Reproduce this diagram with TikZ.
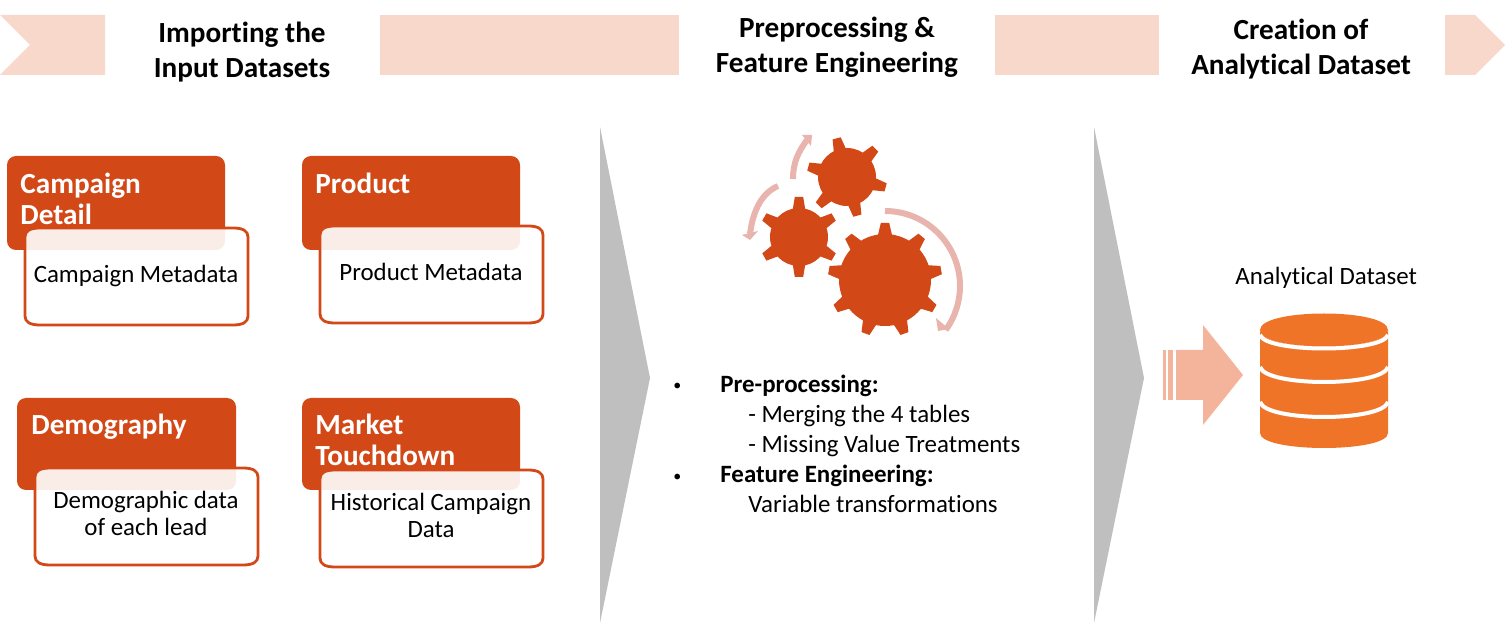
\documentclass[tikz,border=0pt]{standalone}
\usepackage{fontspec}
\setmainfont{Carlito}[Ligatures=NoCommon]
\definecolor{rust}{HTML}{D34817}
\definecolor{band}{HTML}{F9D8CC}
\definecolor{chev}{HTML}{BFBFBF}
\definecolor{swirl}{HTML}{E8B4AD}
\definecolor{dbo}{HTML}{F07427}
\definecolor{flow}{HTML}{F4B49C}
\tikzset{
  x=.5pt,y=.5pt,
  titletext/.style={font=\fontsize{14.6}{17.3}\selectfont\bfseries,align=center,anchor=base,inner sep=0pt,text=black},
  headtext/.style={font=\fontsize{14.6}{15.5}\selectfont\bfseries,align=left,anchor=base west,inner sep=0pt,text=white},
  bodytext/.style={font=\fontsize{12.45}{13.5}\selectfont,align=center,anchor=base,inner sep=0pt,text=black},
  listtext/.style={font=\fontsize{12.45}{15}\selectfont,anchor=base west,inner sep=0pt,text=black},
  listbold/.style={listtext,font=\fontsize{12.45}{15}\selectfont\bfseries},
  listdot/.style={listtext,font=\fontsize{8}{15}\selectfont},
  darkbox/.style={fill=rust,rounded corners=4.5pt},
  softbox/.style={draw=rust,line width=1.4pt,fill=white,fill opacity=.9,draw opacity=1},
  swirlarc/.style={draw=swirl,line width=3pt},
}
\newcommand{\softcard}[4]{%
  \filldraw[softbox] (#1+15,#2) -- (#3-15,#2) .. controls (#3-5,#2) and (#3,#2-3) .. (#3,#2-9)
    -- (#3,#4+9) .. controls (#3,#4+3) and (#3-5,#4) .. (#3-15,#4)
    -- (#1+15,#4) .. controls (#1+5,#4) and (#1,#4+3) .. (#1,#4+9)
    -- (#1,#2-9) .. controls (#1,#2-3) and (#1+5,#2) .. (#1+15,#2) -- cycle;}
\newcommand{\gearat}[7]{%
  \begin{scope}[shift={(#1,#2)}]
    \fill[rust] (0,0) circle[radius=#3];
    \foreach \k in {1,...,#6}{%
      \fill[rust,rotate={#5+360/#6*\k}] (#3-3,-#7) -- (#4,-4.2) -- (#4,4.2) -- (#3-3,#7) -- cycle;
    }
  \end{scope}}
\begin{document}
\begin{tikzpicture}
\useasboundingbox (0,0) rectangle (1505,-625);
% header band
\fill[band] (0,-15) -- (105,-15) -- (105,-75) -- (0,-75) -- (30,-45) -- cycle;
\fill[band] (380,-15) rectangle (679,-75);
\fill[band] (995,-15) rectangle (1159,-75);
\fill[band] (1445,-15) -- (1475,-15) -- (1505,-45) -- (1475,-75) -- (1445,-75) -- cycle;
\node[titletext] (t1) at (242,-77.5) {Importing the\\Input Datasets};
\node[titletext] (t2) at (837,-72.5) {Preprocessing \&\\Feature Engineering};
\node[titletext] (t3) at (1301,-74.5) {Creation of\\Analytical Dataset};
% chevrons
\fill[chev] (600,-127) -- (650,-378) -- (600,-623) -- cycle;
\fill[chev] (1094,-127) -- (1144,-378) -- (1094,-623) -- cycle;
% cards
\fill[darkbox] (7,-156) rectangle (225,-250);
\softcard{25}{-228}{248}{-325}
\fill[darkbox] (302,-156) rectangle (520,-250);
\softcard{320}{-226}{543}{-323}
\fill[darkbox] (17,-398) rectangle (236,-490);
\softcard{35}{-468}{258}{-565}
\fill[darkbox] (302,-398) rectangle (520,-490);
\softcard{320}{-470}{543}{-567}
\node[headtext] (h1) at (20,-225) {Campaign\\Detail};
\node[headtext] (h2) at (315,-194) {Product};
\node[headtext] (h3) at (31,-435) {Demography};
\node[headtext] (h4) at (315,-466) {Market\\Touchdown};
\node[bodytext] (b1) at (136,-283) {Campaign Metadata};
\node[bodytext] (b2) at (431,-281) {Product Metadata};
\node[bodytext] (b3) at (146,-536) {Demographic data\\of each lead};
\node[bodytext] (b4) at (431,-538) {Historical Campaign\\Data};
% gears
\gearat{885}{-280}{46}{57}{90}{9}{7.5}
\gearat{799}{-237}{29}{40}{90}{6}{6.5}
\gearat{847}{-177}{29}{40}{105}{6}{6.5}
% swirl arrows
\draw[swirlarc] (885,-211) arc[start angle=90,end angle=-36,radius=75];
\fill[swirl] (938,-331) -- (936,-318) -- (949,-329) -- cycle;
\draw[swirlarc] (778,-186) .. controls (762,-193) and (753,-210) .. (750,-234);
\fill[swirl] (750,-240) -- (742,-235) -- (758,-231) -- cycle;
\draw[swirlarc] (793,-179) .. controls (793,-163) and (798,-152) .. (807,-140);
\fill[swirl] (812,-135) -- (802,-135) -- (811,-146) -- cycle;
% list
\node[listdot] (d1) at (673,-391) {•};
\node[listbold] (l1) at (720,-393) {Pre-processing:};
\node[listtext] (l2) at (748,-423) {- Merging the 4 tables};
\node[listtext] (l3) at (748,-453) {- Missing Value Treatments};
\node[listdot] (d2) at (673,-481) {•};
\node[listbold] (l4) at (720,-483) {Feature Engineering:};
\node[listtext] (l5) at (748,-513) {Variable transformations};
% arrow
\fill[flow] (1163,-350) rectangle (1166,-400);
\fill[flow] (1168,-350) rectangle (1173,-400);
\fill[flow] (1176,-350) -- (1203,-350) -- (1203,-325) -- (1243,-375) -- (1203,-425) -- (1203,-400) -- (1176,-400) -- cycle;
% database
\fill[dbo] (1260,-330) .. controls (1260,-352) and (1388,-352) .. (1388,-330) -- (1388,-433)
  .. controls (1388,-453) and (1260,-453) .. (1260,-433) -- cycle;
\fill[dbo] (1260,-330) .. controls (1260,-308) and (1388,-308) .. (1388,-330) .. controls (1388,-352) and (1260,-352) .. (1260,-330) -- cycle;
\draw[white,line width=2pt] (1260,-335) .. controls (1266,-353) and (1382,-353) .. (1388,-335);
\draw[white,line width=2pt] (1260,-367) .. controls (1266,-387) and (1382,-387) .. (1388,-367);
\draw[white,line width=2pt] (1260,-402) .. controls (1266,-422) and (1382,-422) .. (1388,-402);
\node[listtext] (a1) at (1235,-285) {Analytical Dataset};
\end{tikzpicture}
\end{document}
